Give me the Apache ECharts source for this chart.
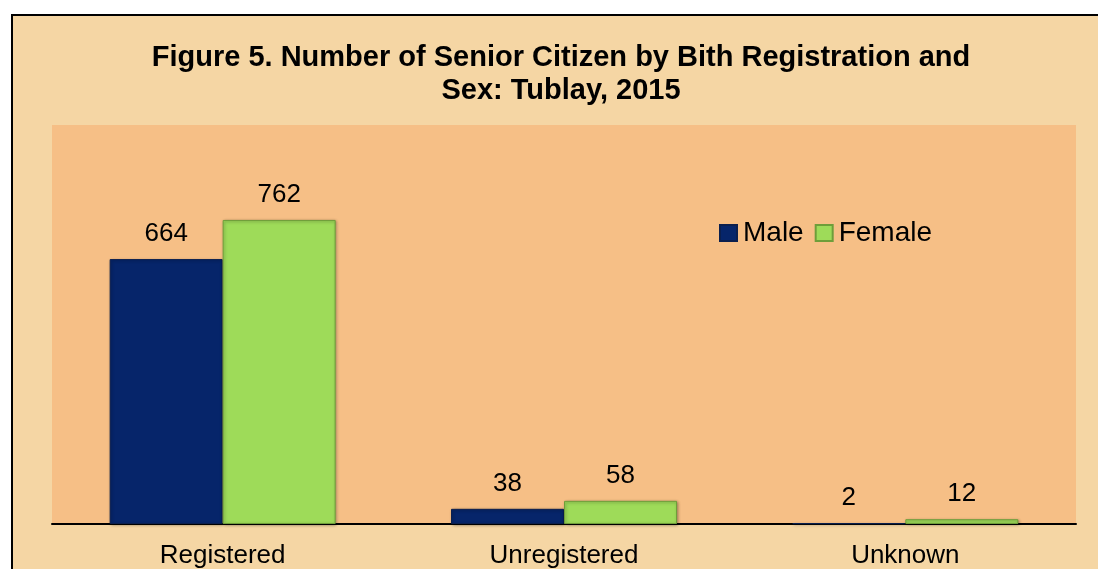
<!DOCTYPE html>
<html>
<head>
<meta charset="utf-8">
<title>Figure 5</title>
<script src="https://cdn.jsdelivr.net/npm/echarts@6/dist/echarts.min.js"></script>
<style>
    html, body { margin: 0; padding: 0; background: #ffffff; }
    #chart { width: 1098px; height: 569px; }
</style>
</head>
<body>
<div id="chart"></div>
<script>
// data
var categories = ['Registered', 'Unregistered', 'Unknown'];
var maleData = [664, 38, 2];
var femaleData = [762, 58, 12];
var seriesNames = ['Male', 'Female'];

var font = 'Arial, "Liberation Sans", sans-serif';

var initChart = function () {
    var dom = document.getElementById('chart');
    var myEcharts = echarts.init(dom);

    var labelStyle = {
        show: true,
        position: 'top',
        distance: 12,
        color: '#000',
        fontFamily: font,
        fontSize: 26
    };

    var option = {
        backgroundColor: '#ffffff',
        animation: false,
        graphic: [{
            type: 'rect',
            z: -10,
            silent: true,
            shape: { x: 12, y: 15, width: 1120, height: 600 },
            style: { fill: '#F5D6A4', stroke: '#000', lineWidth: 2 }
        }],
        title: {
            text: 'Figure 5. Number of Senior Citizen by Bith Registration and\nSex: Tublay, 2015',
            left: 556,
            top: 36,
            textAlign: 'center',
            textStyle: {
                fontFamily: font,
                fontWeight: 'bold',
                fontSize: 29,
                lineHeight: 33,
                color: '#000'
            }
        },
        legend: {
            data: seriesNames,
            left: 714,
            top: 214,
            icon: 'rect',
            itemWidth: 17,
            itemHeight: 16,
            itemGap: 11,
            textStyle: { fontFamily: font, fontSize: 28, color: '#000', padding: [0, 0, 0, 1] }
        },
        grid: {
            left: 52,
            right: 22,
            top: 125,
            bottom: 44,
            show: true,
            backgroundColor: '#F6BF86',
            borderWidth: 0
        },
        xAxis: {
            type: 'category',
            data: categories,
            axisLine: { lineStyle: { color: '#000', width: 2 } },
            axisTick: { show: false },
            axisLabel: { margin: 19, color: '#000', fontFamily: font, fontSize: 26 }
        },
        yAxis: {
            type: 'value',
            min: 0,
            max: 1000,
            show: false,
            splitLine: { show: false }
        },
        series: [{
            name: seriesNames[0],
            type: 'bar',
            data: maleData,
            barWidth: 113,
            barGap: '0%',
            itemStyle: {
                color: '#06256A',
                borderColor: '#0B1F4E',
                borderWidth: 1,
                shadowColor: 'rgba(0,0,0,0.35)',
                shadowBlur: 3,
                shadowOffsetX: 1,
                shadowOffsetY: 1
            },
            label: labelStyle
        }, {
            name: seriesNames[1],
            type: 'bar',
            data: femaleData,
            barWidth: 113,
            barGap: '0%',
            itemStyle: {
                color: '#9EDB59',
                borderColor: '#6E9E3A',
                borderWidth: 1,
                shadowColor: 'rgba(0,0,0,0.35)',
                shadowBlur: 3,
                shadowOffsetX: 1,
                shadowOffsetY: 1
            },
            label: labelStyle
        }]
    };
    myEcharts.setOption(option);
};
initChart();
</script>
</body>
</html>
